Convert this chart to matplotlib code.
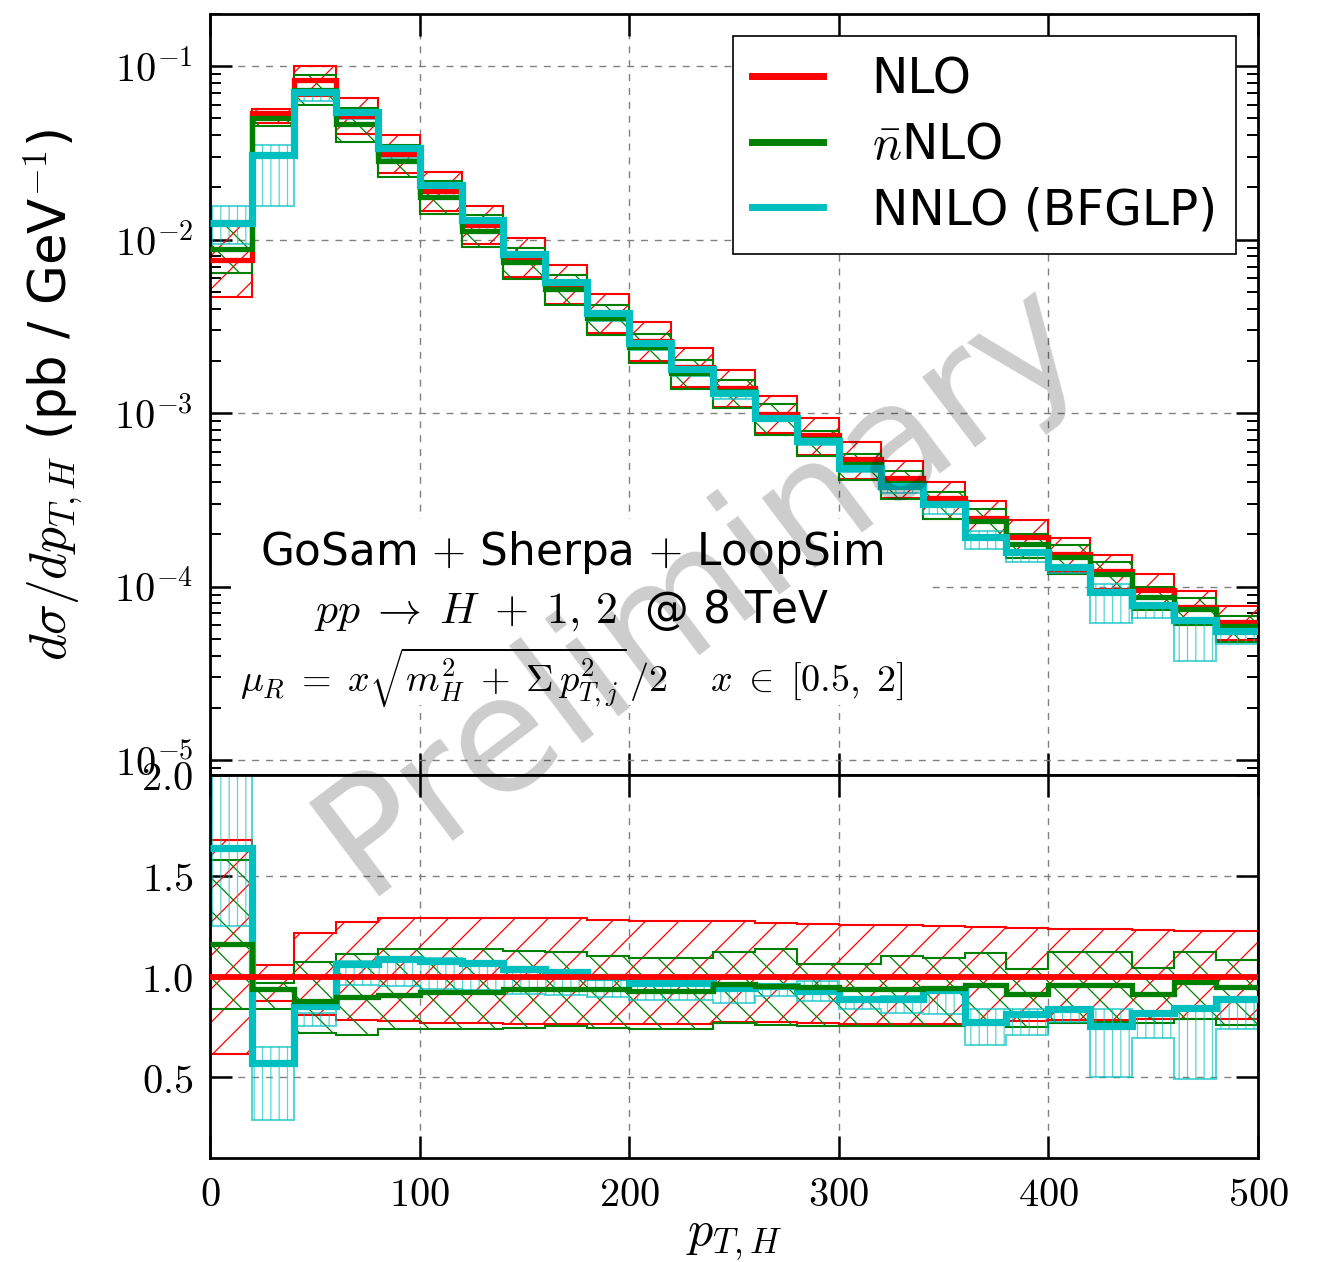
import numpy as np
import matplotlib
matplotlib.use('Agg')
import matplotlib.pyplot as plt
from matplotlib.patches import Rectangle
from matplotlib.lines import Line2D
from matplotlib.ticker import (FixedLocator, LogLocator, FuncFormatter,
                               NullLocator, NullFormatter, MultipleLocator)

plt.rcParams['mathtext.fontset'] = 'cm'
plt.rcParams['font.family'] = ['DejaVu Sans']
plt.rcParams['hatch.linewidth'] = 0.9

# ---------------- data ----------------
bin_edges = np.arange(0, 520, 20)

# NLO central value (pb/GeV)
nlo_central = [7.6e-3, 5.38e-2, 8.3e-2, 5.15e-2, 3.11e-2, 1.91e-2, 1.22e-2,
               7.96e-3, 5.55e-3, 3.8e-3, 2.61e-3, 1.85e-3, 1.39e-3, 9.9e-4,
               7.46e-4, 5.45e-4, 4.24e-4, 3.22e-4, 2.5e-4, 1.94e-4, 1.54e-4,
               1.23e-4, 9.55e-5, 7.65e-5, 6.27e-5]

# ratios to NLO central
nlo_lo = [0.614, 0.88, 0.807, 0.787, 0.78, 0.77, 0.77, 0.766, 0.766, 0.766,
          0.766, 0.766, 0.776, 0.773, 0.77, 0.765, 0.765, 0.765, 0.773, 0.78,
          0.785, 0.785, 0.79, 0.79, 0.79]
nlo_hi = [1.68, 1.056, 1.216, 1.27, 1.29, 1.29, 1.29, 1.29, 1.29, 1.28,
          1.277, 1.275, 1.275, 1.266, 1.26, 1.258, 1.255, 1.25, 1.245, 1.24,
          1.238, 1.238, 1.23, 1.225, 1.225]

nbarnlo_central = [1.16, 0.94, 0.88, 0.898, 0.91, 0.922, 0.925, 0.936, 0.936,
                   0.936, 0.927, 0.926, 0.962, 0.951, 0.95, 0.938, 0.938,
                   0.942, 0.957, 0.913, 0.957, 0.957, 0.916, 0.975, 0.946]
nbarnlo_lo = [0.84, 0.84, 0.72, 0.71, 0.738, 0.74, 0.74, 0.745, 0.754, 0.746,
              0.741, 0.741, 0.77, 0.76, 0.757, 0.757, 0.757, 0.757, 0.76,
              0.752, 0.77, 0.773, 0.77, 0.79, 0.76]
nbarnlo_hi = [1.58, 0.97, 1.07, 1.114, 1.137, 1.137, 1.135, 1.125, 1.12,
              1.104, 1.092, 1.092, 1.12, 1.137, 1.063, 1.064, 1.1, 1.09,
              1.118, 1.036, 1.122, 1.122, 1.044, 1.122, 1.082]

nnlo_central = [1.64, 0.57, 0.856, 1.063, 1.088, 1.076, 1.068, 1.038, 1.023,
                1.0, 0.969, 0.969, 0.944, 0.952, 0.93, 0.888, 0.891, 0.934,
                0.776, 0.814, 0.839, 0.757, 0.819, 0.842, 0.888]
nnlo_lo = [1.25, 0.29, 0.755, 0.96, 0.952, 0.94, 0.932, 0.915, 0.91, 0.90,
           0.883, 0.883, 0.87, 0.906, 0.878, 0.84, 0.82, 0.814, 0.66, 0.71,
           0.773, 0.50, 0.694, 0.49, 0.74]
nnlo_hi = [2.05, 0.65, 0.82, 1.076, 1.097, 1.09, 1.076, 1.05, 1.03, 1.005,
           0.975, 0.975, 0.955, 0.96, 0.977, 0.90, 0.905, 0.945, 0.84, 0.84,
           0.845, 0.84, 0.83, 0.85, 0.895]

labels = ['NLO', r'$\bar{n}$NLO', 'NNLO (BFGLP)']
colors = ['r', 'g', 'c']

# ---------------- figure ----------------
fig = plt.figure(figsize=(13.2, 12.62), dpi=100)
ax1 = fig.add_axes([0.1591, 0.3859, 0.7939, 0.6030])
ax2 = fig.add_axes([0.1591, 0.0824, 0.7939, 0.3035])

edges = bin_edges
centers = edges[:-1] + 10
widths = np.diff(edges)
ref = np.array(nlo_central)

series = [
    (np.ones(len(ref)), np.array(nlo_lo), np.array(nlo_hi), 'r', '/', 1.0),
    (np.array(nbarnlo_central), np.array(nbarnlo_lo), np.array(nbarnlo_hi), 'g', '\\', 1.0),
    (np.array(nnlo_central), np.array(nnlo_lo), np.array(nnlo_hi), 'c', '||', 0.65),
]

# top panel bands (one box per bin)
for cen, lo, hi, col, hat, al in series:
    ax1.bar(centers, (hi - lo) * ref, bottom=lo * ref, width=widths,
            fill=False, edgecolor=col, hatch=hat, lw=1.5, alpha=al, zorder=2)
# top panel central lines
top_lw = [3.8, 3.8, 5.2]
for (cen, lo, hi, col, hat, al), lw in zip(series, top_lw):
    ax1.stairs(cen * ref, edges, baseline=None, color=col, lw=lw, zorder=4)

# bottom panel bands (continuous step bands)
for cen, lo, hi, col, hat, al in series:
    ax2.stairs(hi, edges, baseline=lo, fill=False, edgecolor=col,
               hatch=hat, lw=1.5, alpha=al, zorder=2)
bot_lw = [4.2, 3.8, 5.2]
order = [2, 1, 0]
for i in order:
    cen, lo, hi, col, hat, al = series[i]
    ax2.stairs(cen, edges, baseline=None, color=col, lw=bot_lw[i], zorder=4 + (2 - i))

# axes styling
for ax in (ax1, ax2):
    ax.set_xlim(0, 500)
    ax.set_axisbelow(True)
    ax.xaxis.set_major_locator(MultipleLocator(100))
    ax.xaxis.set_minor_locator(NullLocator())
    ax.tick_params(which='both', direction='in', top=True, right=True)
    ax.tick_params(which='major', length=16, width=1.8, labelsize=29, pad=12)
    ax.tick_params(which='minor', length=8, width=1.4)
    ax.grid(True, which='major', ls=(0, (5, 5)), color='0.5', lw=1.0)
    for sp in ax.spines.values():
        sp.set_linewidth(2.0)

ax1.set_yscale('log')
ax1.set_ylim(8.2e-6, 0.2)
ax1.yaxis.set_major_locator(LogLocator(base=10, numticks=12))
ax1.yaxis.set_minor_locator(LogLocator(base=10, subs=np.arange(2, 10), numticks=12))
ax1.yaxis.set_minor_formatter(NullFormatter())
ax1.yaxis.set_major_formatter(FuncFormatter(lambda v, p: r'$10^{%d}$' % int(round(np.log10(v)))))
ax1.tick_params(labelbottom=False)

ax2.set_ylim(0.1, 2.0)
ax2.yaxis.set_major_locator(FixedLocator([0.5, 1.0, 1.5, 2.0]))
ax2.yaxis.set_minor_locator(NullLocator())
ax2.yaxis.set_major_formatter(FuncFormatter(lambda v, p: r'$%.1f$' % v))
ax2.xaxis.set_major_formatter(FuncFormatter(lambda v, p: r'$%d$' % int(v)))

ax1.set_ylabel(r'$d\sigma/dp_{T,H}$ (pb / GeV$^{-1}$)', fontsize=37, labelpad=22)
ax2.set_xlabel(r'$p_{T,H}$', fontsize=36, labelpad=0)

# white box behind annotation text
ax1.add_patch(Rectangle((0.02, 0.092), 0.667, 0.245, transform=ax1.transAxes,
                        facecolor='white', edgecolor='none', zorder=1))
ax1.text(0.345, 0.293, r'GoSam $+$ Sherpa $+$ LoopSim', transform=ax1.transAxes,
         ha='center', va='center', fontsize=31.5, zorder=5)
ax1.text(0.345, 0.217, r'$pp\;\rightarrow\;H\;+\;1,\,2$  @ 8 TeV', transform=ax1.transAxes,
         ha='center', va='center', fontsize=31.5, zorder=5)
ax1.text(0.345, 0.127,
         r'$\mu_R\;=\;x\sqrt{m_H^2\;+\;\Sigma\, p_{T,j}^2}\,/2\quad\; x\;\in\;[0.5,\;2]$',
         transform=ax1.transAxes, ha='center', va='center', fontsize=27.5, zorder=5)

# legend
handles = [Line2D([], [], color=c, lw=5) for c in colors]
leg = ax1.legend(handles, labels, loc='upper right', fontsize=35, frameon=True,
                 fancybox=False, edgecolor='k', framealpha=1, handlelength=1.45,
                 handletextpad=1.0, borderaxespad=0.45, labelspacing=0.36,
                 borderpad=0.4)
leg.get_frame().set_linewidth(1.2)
leg.set_zorder(10)

# watermark
fig.text(0.530, 0.535, 'Preliminary', rotation=37, fontsize=116, color='k',
         alpha=0.2, ha='center', va='center', zorder=20)

fig.savefig('out.png', dpi=100)
